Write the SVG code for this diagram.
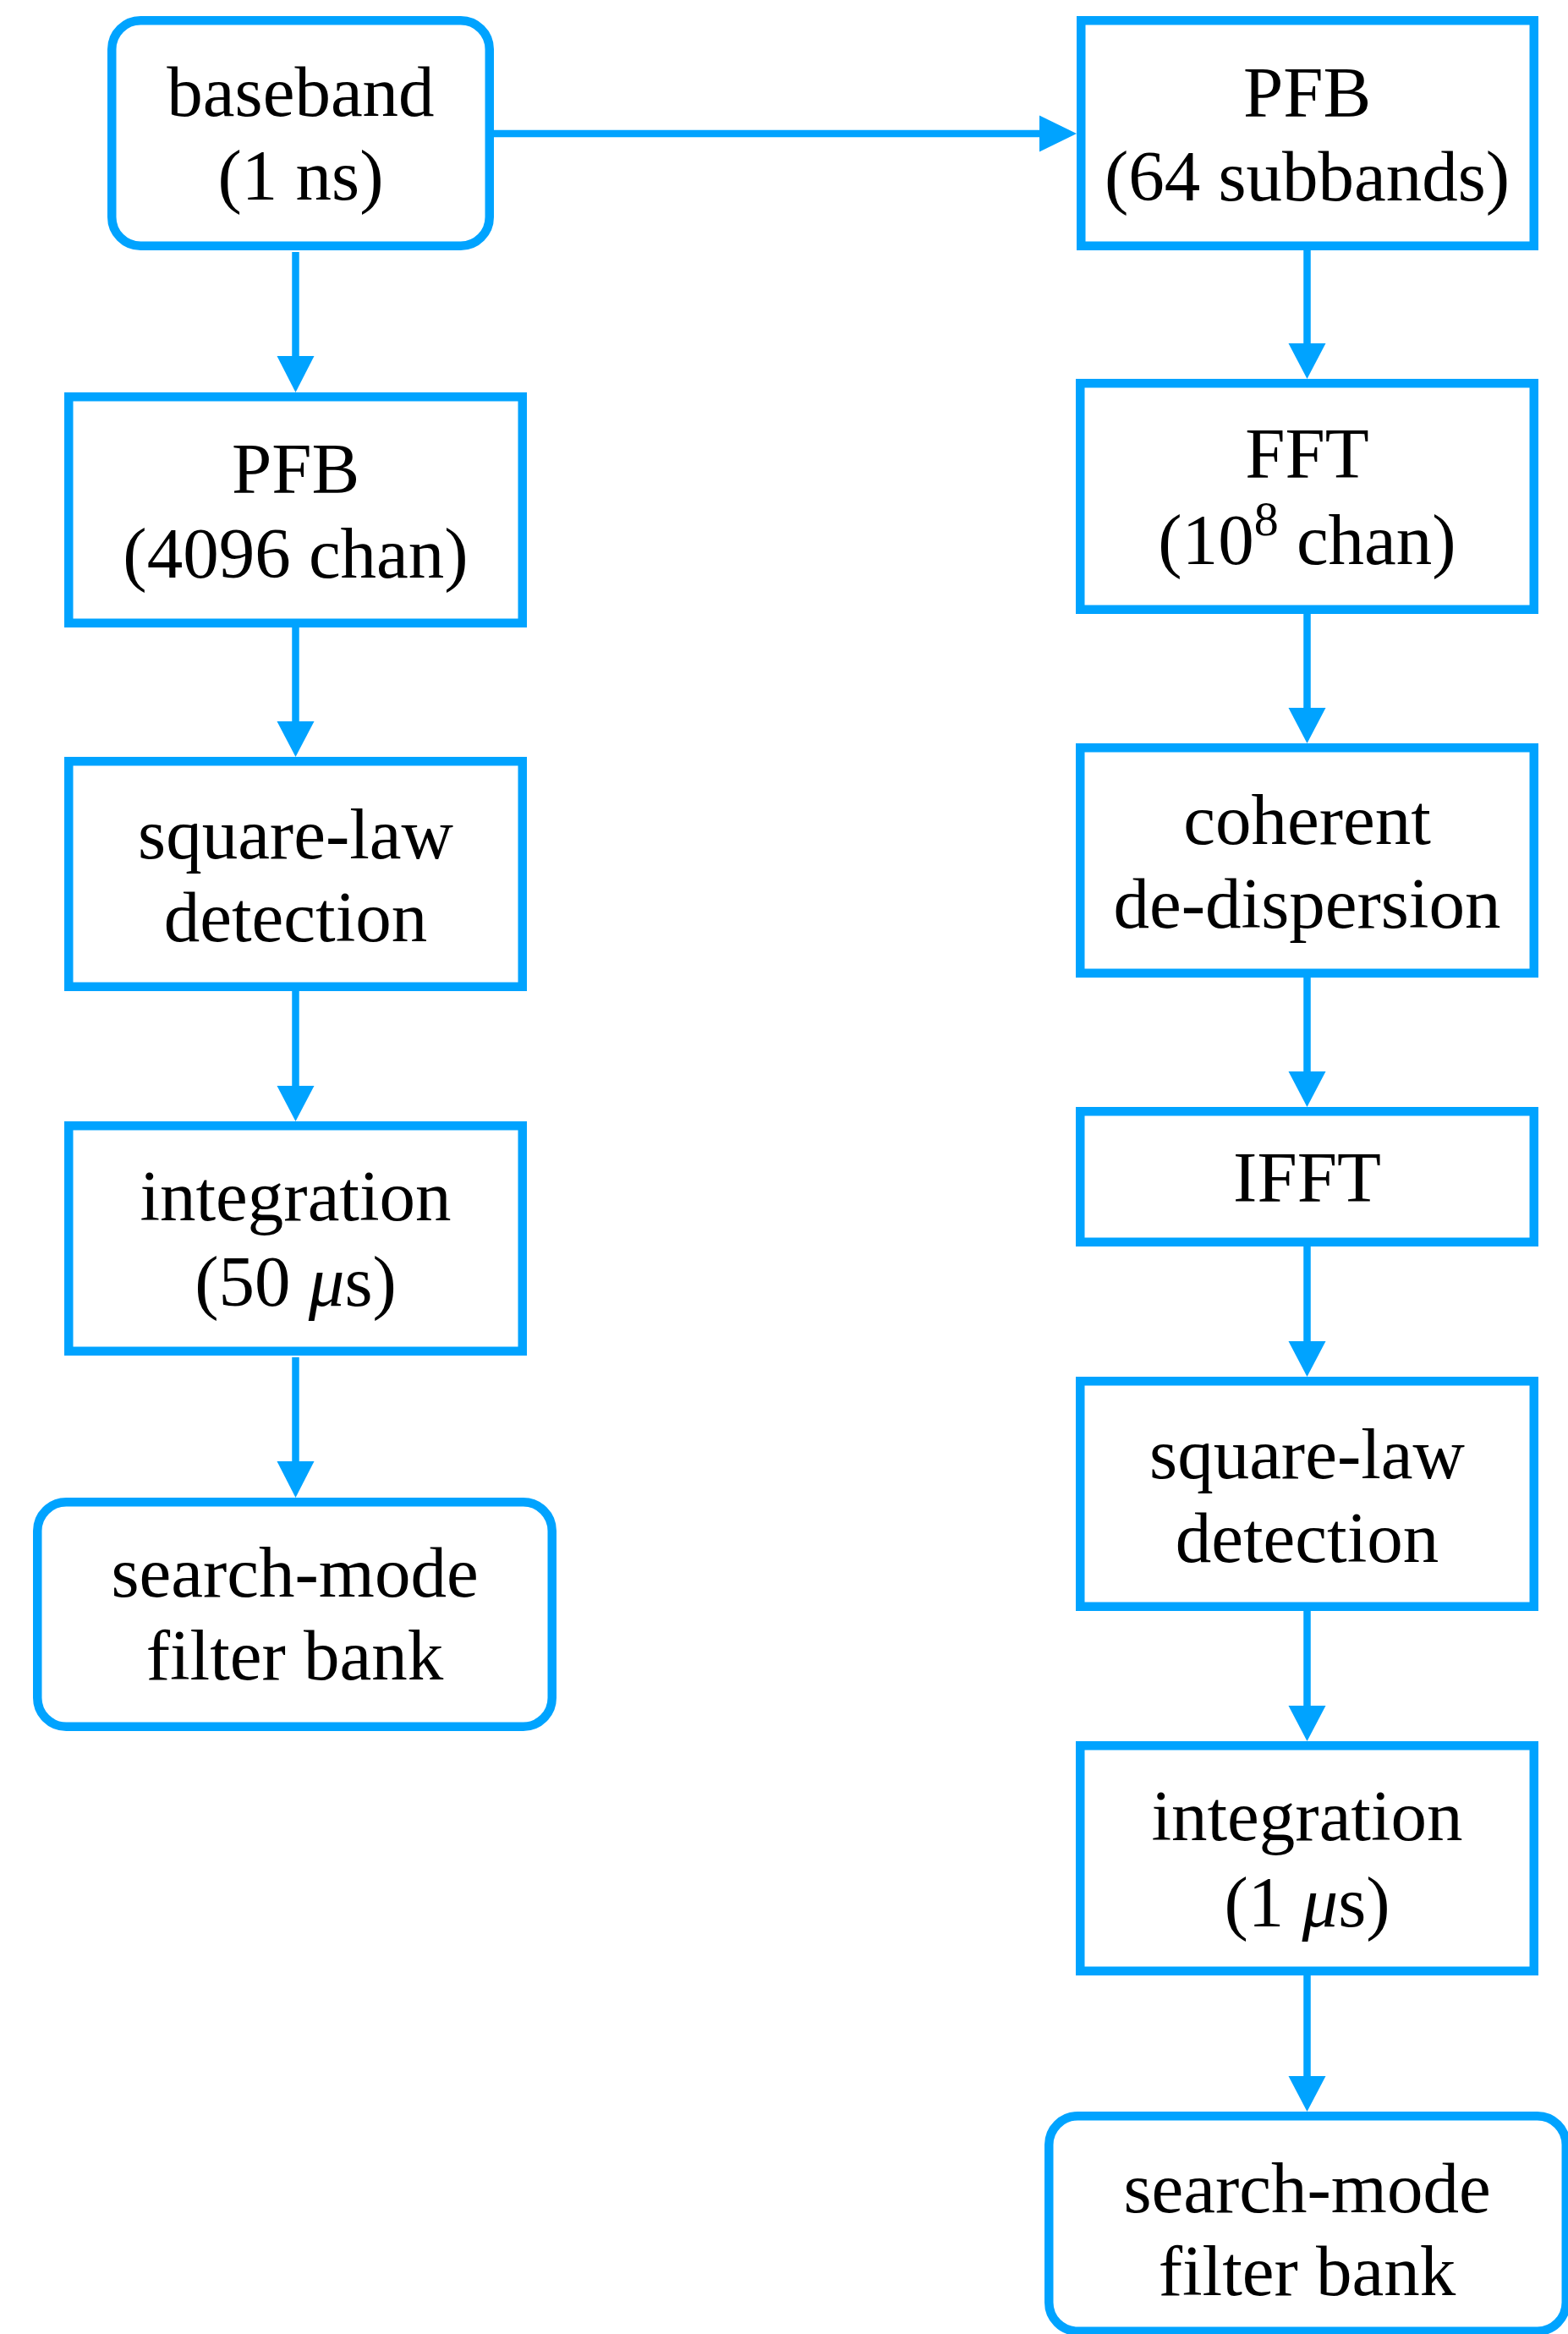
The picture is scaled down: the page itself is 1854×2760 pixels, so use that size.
<svg xmlns="http://www.w3.org/2000/svg" width="1854" height="2760" viewBox="0 0 1854 2760">
<style>
.box{fill:#ffffff;stroke:#00A3FF;stroke-width:10.5}
.ln{stroke:#00A3FF;stroke-width:8.5;fill:none}
.hd{fill:#00A3FF}
.t{font-family:"Liberation Serif","Times New Roman",serif;font-size:85px;fill:#000;text-anchor:middle}
.it{font-style:italic}
</style>
<rect width="1854" height="2760" fill="#ffffff"/>
<g id="connectors">
<line class="ln" x1="584" y1="158" x2="1232" y2="158"/>
<polygon class="hd" points="1229,136.5 1273,158 1229,179.5"/>
<line class="ln" x1="349.5" y1="298" x2="349.5" y2="424"/>
<polygon class="hd" points="327.5,421 371.5,421 349.5,464"/>
<line class="ln" x1="349.5" y1="742" x2="349.5" y2="856"/>
<polygon class="hd" points="327.5,853 371.5,853 349.5,895"/>
<line class="ln" x1="349.5" y1="1172" x2="349.5" y2="1287"/>
<polygon class="hd" points="327.5,1284 371.5,1284 349.5,1326"/>
<line class="ln" x1="349.5" y1="1605" x2="349.5" y2="1731"/>
<polygon class="hd" points="327.5,1728 371.5,1728 349.5,1771"/>
<line class="ln" x1="1545.5" y1="296" x2="1545.5" y2="409"/>
<polygon class="hd" points="1523.5,406 1567.5,406 1545.5,448"/>
<line class="ln" x1="1545.5" y1="726" x2="1545.5" y2="840"/>
<polygon class="hd" points="1523.5,837 1567.5,837 1545.5,879"/>
<line class="ln" x1="1545.5" y1="1156" x2="1545.5" y2="1270"/>
<polygon class="hd" points="1523.5,1267 1567.5,1267 1545.5,1309"/>
<line class="ln" x1="1545.5" y1="1474" x2="1545.5" y2="1589"/>
<polygon class="hd" points="1523.5,1586 1567.5,1586 1545.5,1628"/>
<line class="ln" x1="1545.5" y1="1905" x2="1545.5" y2="2020"/>
<polygon class="hd" points="1523.5,2017 1567.5,2017 1545.5,2059"/>
<line class="ln" x1="1545.5" y1="2336" x2="1545.5" y2="2458"/>
<polygon class="hd" points="1523.5,2455 1567.5,2455 1545.5,2497"/>
</g>
<g id="baseband">
<rect class="box" x="132.25" y="24.25" width="446.5" height="266.5" rx="34"/>
<text class="t" x="355.5" y="137">baseband</text>
<text class="t" x="355.5" y="236">(1 ns)</text>
</g>
<g id="pfb4096">
<rect class="box" x="81.25" y="469.25" width="536.5" height="267.5"/>
<text class="t" x="349.5" y="583">PFB</text>
<text class="t" x="349.5" y="683">(4096 chan)</text>
</g>
<g id="sqlaw-left">
<rect class="box" x="81.25" y="900.25" width="536.5" height="266.5"/>
<text class="t" x="349.5" y="1015">square-law</text>
<text class="t" x="349.5" y="1113">detection</text>
</g>
<g id="integ-left">
<rect class="box" x="81.25" y="1331.25" width="536.5" height="266.5"/>
<text class="t" x="349.5" y="1443">integration</text>
<text class="t" x="349.5" y="1544">(50 <tspan class="it">μ</tspan>s)</text>
</g>
<g id="search-left">
<rect class="box" x="44.25" y="1776.25" width="608.5" height="265.5" rx="34"/>
<text class="t" x="348.5" y="1888">search-mode</text>
<text class="t" x="348.5" y="1986">filter bank</text>
</g>
<g id="pfb64">
<rect class="box" x="1278.25" y="24.25" width="535.5" height="266.5"/>
<text class="t" x="1545.5" y="138">PFB</text>
<text class="t" x="1545.5" y="237">(64 subbands)</text>
</g>
<g id="fft">
<rect class="box" x="1277.25" y="453.25" width="536.5" height="267.5"/>
<text class="t" x="1545.5" y="565">FFT</text>
<text class="t" x="1545.5" y="667">(10<tspan font-size="58" dy="-34">8</tspan><tspan dy="34"> chan)</tspan></text>
</g>
<g id="coherent">
<rect class="box" x="1277.25" y="884.25" width="536.5" height="266.5"/>
<text class="t" x="1545.5" y="998">coherent</text>
<text class="t" x="1545.5" y="1097">de-dispersion</text>
</g>
<g id="ifft">
<rect class="box" x="1277.25" y="1314.25" width="536.5" height="154.5"/>
<text class="t" x="1545.5" y="1421">IFFT</text>
</g>
<g id="sqlaw-right">
<rect class="box" x="1277.25" y="1633.25" width="536.5" height="266.5"/>
<text class="t" x="1545.5" y="1748">square-law</text>
<text class="t" x="1545.5" y="1847">detection</text>
</g>
<g id="integ-right">
<rect class="box" x="1277.25" y="2064.25" width="536.5" height="266.5"/>
<text class="t" x="1545.5" y="2176">integration</text>
<text class="t" x="1545.5" y="2278">(1 <tspan class="it">μ</tspan>s)</text>
</g>
<g id="search-right">
<rect class="box" x="1240.25" y="2502.25" width="611.5" height="254.5" rx="34"/>
<text class="t" x="1545.5" y="2616">search-mode</text>
<text class="t" x="1545.5" y="2714">filter bank</text>
</g>
</svg>
